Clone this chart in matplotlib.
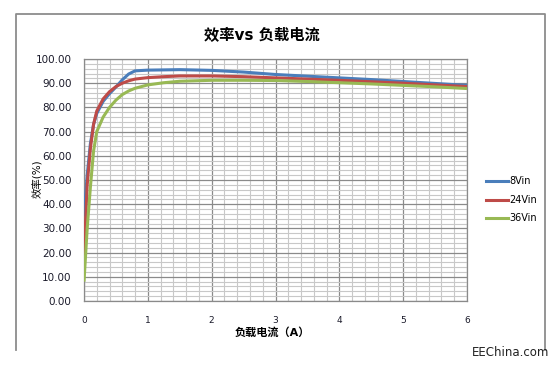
import numpy as np
import matplotlib
matplotlib.use('Agg')
import matplotlib.pyplot as plt
from matplotlib.lines import Line2D
from matplotlib.ticker import MultipleLocator, FormatStrFormatter

plt.rcParams['font.family'] = ['DejaVu Sans', 'Noto Sans CJK SC']

# load current (A)
current = [0.0, 0.05, 0.1, 0.15, 0.2, 0.3, 0.4, 0.5, 0.6, 0.7, 0.8, 1.0, 1.25, 1.5,
           2.0, 2.5, 3.0, 3.5, 4.0, 4.5, 5.0, 5.5, 6.0]
# efficiency (%)
eff_8vin = [35, 52, 65, 73, 77.5, 82.5, 85.7, 88.4, 91.4, 93.8, 95.1, 95.4, 95.5, 95.6,
            95.3, 94.6, 93.6, 92.9, 92.2, 91.5, 90.7, 89.9, 89.1]
eff_24vin = [18, 48, 63, 73, 78.5, 83.5, 86.5, 88.6, 90.0, 91.0, 91.7, 92.3, 92.7, 93.0,
             93.0, 92.7, 92.2, 91.7, 91.2, 90.6, 90.0, 89.3, 88.6]
eff_36vin = [8, 30, 47, 62, 70, 76, 80, 83, 85.3, 86.8, 87.9, 89.3, 90.2, 90.8,
             91.2, 91.2, 91.1, 90.7, 90.2, 89.7, 89.1, 88.5, 87.8]

series = [('8Vin', eff_8vin, '#4A7EBB'),
          ('24Vin', eff_24vin, '#BE4B48'),
          ('36Vin', eff_36vin, '#98B954')]

fig = plt.figure(figsize=(5.56, 3.66), dpi=100)
ax = fig.add_axes([84 / 556, 65 / 366, 383 / 556, 242 / 366])

for name, vals, col in series:
    ax.plot(current, vals, color=col, lw=2.2, solid_capstyle='butt', zorder=3)

ax.set_xlim(0, 6)
ax.set_ylim(0, 100)
ax.xaxis.set_major_locator(MultipleLocator(1))
ax.xaxis.set_minor_locator(MultipleLocator(0.2))
ax.yaxis.set_major_locator(MultipleLocator(10))
ax.yaxis.set_minor_locator(MultipleLocator(2))
ax.yaxis.set_major_formatter(FormatStrFormatter('%.2f'))
ax.grid(which='major', color='#8a8a8a', lw=0.9)
ax.grid(which='minor', color='#c8c8c8', lw=0.8)
ax.set_axisbelow(True)
for s in ax.spines.values():
    s.set_color('#8a8a8a')
    s.set_linewidth(0.9)
ax.tick_params(which='both', length=0)
ax.tick_params(axis='y', labelsize=7.5, pad=9, colors='#1a1a2a')
ax.tick_params(axis='x', labelsize=6.5, pad=11, colors='#1a1a2a')

fig.text(262 / 556, 1 - 36 / 366, '效率vs 负载电流', ha='center', va='center',
         fontsize=11, fontweight='bold')
fig.text(272 / 556, 1 - 333 / 366, '负载电流（A）', ha='center', va='center',
         fontsize=8, fontweight='bold')
fig.text(38 / 556, 1 - 179 / 366, '效率(%)', ha='center', va='center',
         rotation=90, fontsize=7.5)

# legend
for i, (name, vals, col) in enumerate(series):
    yy = 1 - (181 + i * 18.6) / 366
    fig.add_artist(Line2D([486 / 556, 508 / 556], [yy, yy], color=col, lw=2.2,
                          transform=fig.transFigure))
    fig.text(509 / 556, yy, name, ha='left', va='center', fontsize=7)

# chart frame (left, top, right)
fx0, fx1 = 16 / 556, 545 / 556
fy0, fy1 = 1 - 350 / 366, 1 - 14 / 366
fig.add_artist(Line2D([fx0, fx0, fx1, fx1], [fy0, fy1, fy1, fy0], color='#8c8c8c',
                      lw=1.3, transform=fig.transFigure))

fig.text(511 / 556, 1 - 352 / 366, 'EEChina.com', ha='center', va='center',
         fontsize=8.5, color='#222222')

fig.savefig('out.png', dpi=100)
